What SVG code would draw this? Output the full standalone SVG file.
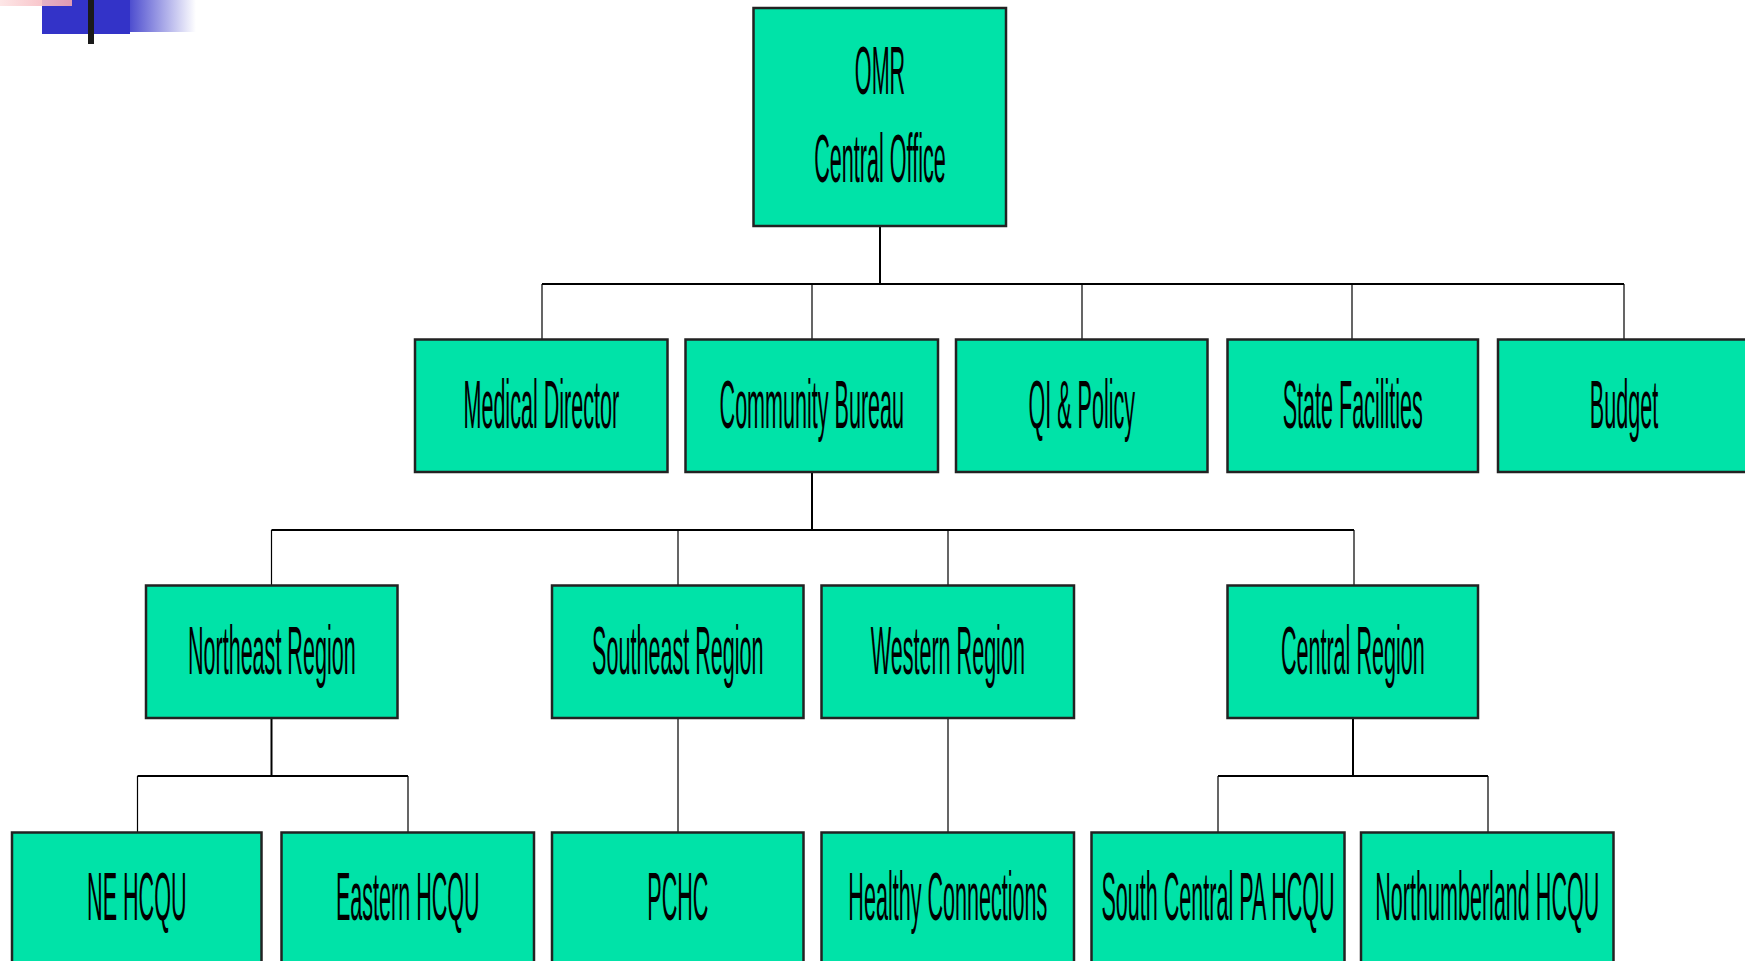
<svg xmlns="http://www.w3.org/2000/svg" width="1745" height="961" viewBox="0 0 1745 961">
<defs>
<linearGradient id="fadeBlue" x1="0" y1="0" x2="1" y2="0">
<stop offset="0" stop-color="#3333c8"/>
<stop offset="1" stop-color="#3333c8" stop-opacity="0"/>
</linearGradient>
<linearGradient id="pink" x1="0" y1="0" x2="1" y2="0">
<stop offset="0" stop-color="#fde4e4"/>
<stop offset="1" stop-color="#f4a6b0"/>
</linearGradient>
</defs>
<style>
.box{fill:#00e3a8;stroke:#222;stroke-width:2.5}
.lbl{font-family:"Liberation Sans",Arial,sans-serif;font-size:68px;fill:#000;text-anchor:middle}
.main{stroke:#000;stroke-width:2;fill:none}
.drop{stroke:#000;stroke-width:1.2;fill:none}
</style>
<rect width="1745" height="961" fill="#fff"/>
<g id="decor">
<rect x="120" y="0" width="76" height="32" fill="url(#fadeBlue)"/>
<rect x="42" y="0" width="88" height="34" fill="#3333c8"/>
<rect x="0" y="0" width="72" height="6" fill="url(#pink)" opacity="0.9"/>
<rect x="88" y="0" width="6" height="44" fill="#1a1a1a"/>
</g>
<g id="connectors">
<path class="main" d="M880 226V284M542 284H1624"/>
<path class="drop" d="M542 284V339.5M812 284V339.5M1082 284V339.5M1352 284V339.5M1624 284V339.5"/>
<path class="main" d="M812 472V530M271.5 530H1354"/>
<path class="drop" d="M271.5 530V585.5M678 530V585.5M948 530V585.5M1354 530V585.5"/>
<path class="main" d="M271.5 718V776M137.5 776H408"/>
<path class="drop" d="M137.5 776V832.5M408 776V832.5"/>
<path class="drop" d="M678 718V832.5M948 718V832.5"/>
<path class="main" d="M1353 718V776M1218 776H1488"/>
<path class="drop" d="M1218 776V832.5M1488 776V832.5"/>
</g>
<g id="n-omr"><rect class="box" x="753.5" y="8" width="252.5" height="218"/>
<text class="lbl" transform="translate(880 93.5) scale(0.317 1)">OMR</text>
<text class="lbl" transform="translate(880 182) scale(0.317 1)">Central Office</text></g>
<g id="n-medical"><rect class="box" x="415" y="339.5" width="252.5" height="132.5"/>
<text class="lbl" transform="translate(541.3 428) scale(0.317 1)">Medical Director</text></g>
<g id="n-community"><rect class="box" x="685.5" y="339.5" width="252.5" height="132.5"/>
<text class="lbl" transform="translate(811.8 428) scale(0.317 1)">Community Bureau</text></g>
<g id="n-qi"><rect class="box" x="956" y="339.5" width="251.5" height="132.5"/>
<text class="lbl" transform="translate(1081.8 428) scale(0.317 1)">QI &amp; Policy</text></g>
<g id="n-state"><rect class="box" x="1227.5" y="339.5" width="250.5" height="132.5"/>
<text class="lbl" transform="translate(1352.8 428) scale(0.317 1)">State Facilities</text></g>
<g id="n-budget"><rect class="box" x="1498" y="339.5" width="252" height="132.5"/>
<text class="lbl" transform="translate(1624 428) scale(0.317 1)">Budget</text></g>
<g id="n-northeast"><rect class="box" x="146" y="585.5" width="251.5" height="132.5"/>
<text class="lbl" transform="translate(271.8 674) scale(0.317 1)">Northeast Region</text></g>
<g id="n-southeast"><rect class="box" x="552" y="585.5" width="251.5" height="132.5"/>
<text class="lbl" transform="translate(677.8 674) scale(0.317 1)">Southeast Region</text></g>
<g id="n-western"><rect class="box" x="821.5" y="585.5" width="252.5" height="132.5"/>
<text class="lbl" transform="translate(947.8 674) scale(0.317 1)">Western Region</text></g>
<g id="n-central"><rect class="box" x="1227.5" y="585.5" width="250.5" height="132.5"/>
<text class="lbl" transform="translate(1352.8 674) scale(0.317 1)">Central Region</text></g>
<g id="n-nehcqu"><rect class="box" x="12" y="832.5" width="249.5" height="140"/>
<text class="lbl" transform="translate(136.8 920) scale(0.317 1)">NE HCQU</text></g>
<g id="n-eastern"><rect class="box" x="281.5" y="832.5" width="252.5" height="140"/>
<text class="lbl" transform="translate(407.8 920) scale(0.317 1)">Eastern HCQU</text></g>
<g id="n-pchc"><rect class="box" x="552" y="832.5" width="251.5" height="140"/>
<text class="lbl" transform="translate(677.8 920) scale(0.317 1)">PCHC</text></g>
<g id="n-healthy"><rect class="box" x="821.5" y="832.5" width="252.5" height="140"/>
<text class="lbl" transform="translate(947.8 920) scale(0.317 1)">Healthy Connections</text></g>
<g id="n-southcentral"><rect class="box" x="1091.5" y="832.5" width="253" height="140"/>
<text class="lbl" transform="translate(1218 920) scale(0.317 1)">South Central PA HCQU</text></g>
<g id="n-northumberland"><rect class="box" x="1361" y="832.5" width="252.5" height="140"/>
<text class="lbl" transform="translate(1487.3 920) scale(0.317 1)">Northumberland HCQU</text></g>
</svg>
